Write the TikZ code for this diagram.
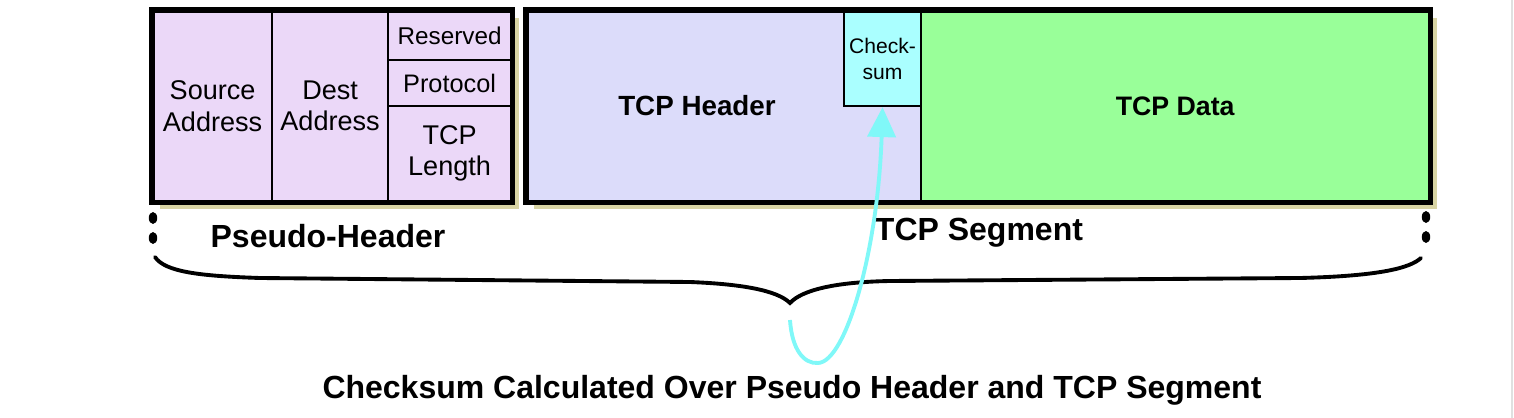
\documentclass[tikz,border=0pt]{standalone}
\usepackage{fontspec}
\setmainfont{Liberation Sans}
\usetikzlibrary{arrows.meta,positioning}
\definecolor{PseudoPink}{HTML}{EBD8F8}
\definecolor{HeaderBlue}{HTML}{DCDCFA}
\definecolor{CheckCyan}{HTML}{AAFFFF}
\definecolor{DataGreen}{HTML}{99FF99}
\definecolor{ArrowCyan}{HTML}{80F8F8}
\definecolor{ShadowTan}{HTML}{D8D4A4}
\tikzset{
  cell/.style={
    rectangle, draw=black, line width=0.6pt, inner sep=0pt, anchor=north west,
    align=center, font=\fontsize{7.7}{8.9}\selectfont
  },
  pseudocell/.style={cell, fill=PseudoPink},
  framebox/.style={draw=black, line width=1.45pt},
  shadowbox/.style={fill=ShadowTan},
  boldlbl/.style={font=\bfseries\fontsize{7.9}{9}\selectfont, inner sep=0pt},
  bracelbl/.style={font=\bfseries\fontsize{9.1}{10}\selectfont, inner sep=0pt},
  bracepath/.style={draw=black, line width=1.1pt, line cap=round},
  cksumarrow/.style={-{Triangle[width=8pt,length=8.5pt]}, ArrowCyan, line width=1.1pt},
}

\begin{document}
\begin{tikzpicture}[x=0.01cm, y=-0.01cm]
    \useasboundingbox (0,0) rectangle (1514,418);
    \draw[black!12, line width=0.6pt] (1512,0) -- (1512,418);

    % shadows behind the two blocks
    \fill[shadowbox] (160,18) rectangle (519,209);
    \fill[shadowbox] (534,18) rectangle (1437,209);

    % pseudo header
    \node[pseudocell, minimum width=1.19cm, minimum height=1.90cm] (srcaddr) at (152,10) {Source\\Address};
    \node[pseudocell, minimum width=1.16cm, minimum height=1.90cm] (dstaddr) at (271,10) {Dest\\Address};
    \node[pseudocell, minimum width=1.23cm, minimum height=0.49cm, font=\fontsize{6.9}{8}\selectfont] (resvd) at (387,10) {Reserved};
    \node[pseudocell, minimum width=1.23cm, minimum height=0.46cm, font=\fontsize{7.2}{8}\selectfont] (proto) at (387,59) {Protocol};
    \node[pseudocell, minimum width=1.23cm, minimum height=0.95cm] (tcplen) at (387,105) {TCP\\Length};
    \draw[framebox] (srcaddr.north west) rectangle (tcplen.south east);

    % tcp segment
    \node[cell, fill=HeaderBlue, minimum width=3.94cm, minimum height=1.90cm] (tcphdr) at (526,10) {};
    \node[boldlbl] (hdrtext) at (697,106) {TCP Header};
    \node[cell, fill=CheckCyan, minimum width=0.77cm, minimum height=0.95cm, font=\fontsize{6}{7.4}\selectfont] (cksum) at (843,10) {Check-\\sum};
    \node[cell, fill=DataGreen, minimum width=5.08cm, minimum height=1.90cm, font=\bfseries\fontsize{7.6}{9}\selectfont] (tcpdata) at (920,10) {TCP Data};
    \draw[framebox] (tcphdr.north west) rectangle (tcpdata.south east);

    % brace labels
    \node[bracelbl] (pseudolbl) at (328,236) {Pseudo-Header};
    \node[bracelbl] (seglbl) at (979,233) {TCP Segment};

    % dotted ends and the brace
    \fill (153,218) ellipse [x radius=1.2pt, y radius=1.7pt];
    \fill (153,238) ellipse [x radius=1.2pt, y radius=1.7pt];
    \fill (1426,217) ellipse [x radius=1.2pt, y radius=1.7pt];
    \fill (1426,237) ellipse [x radius=1.2pt, y radius=1.7pt];
    \coordinate (braceL) at (155,257);
    \coordinate (braceR) at (1421,258);
    \coordinate (bracetip) at (790,303);
    \draw[bracepath] (braceL) .. controls (165,272) and (200,276) .. (260,278) -- (690,282)
      .. controls (740,284) and (777,290) .. (bracetip)
      .. controls (802,290) and (835,282) .. (890,281) -- (1300,278)
      .. controls (1380,276) and (1410,268) .. (braceR);

    % checksum arrow
    \coordinate (arrstart) at (790,320);
    \draw[cksumarrow] (arrstart) .. controls (792,350) and (804,364) .. (818,363)
      .. controls (846,362) and (878,250) .. (cksum.south);

    \node[bracelbl] (calcnote) at (792,390) {Checksum Calculated Over Pseudo Header and TCP Segment};
\end{tikzpicture}
\end{document}
